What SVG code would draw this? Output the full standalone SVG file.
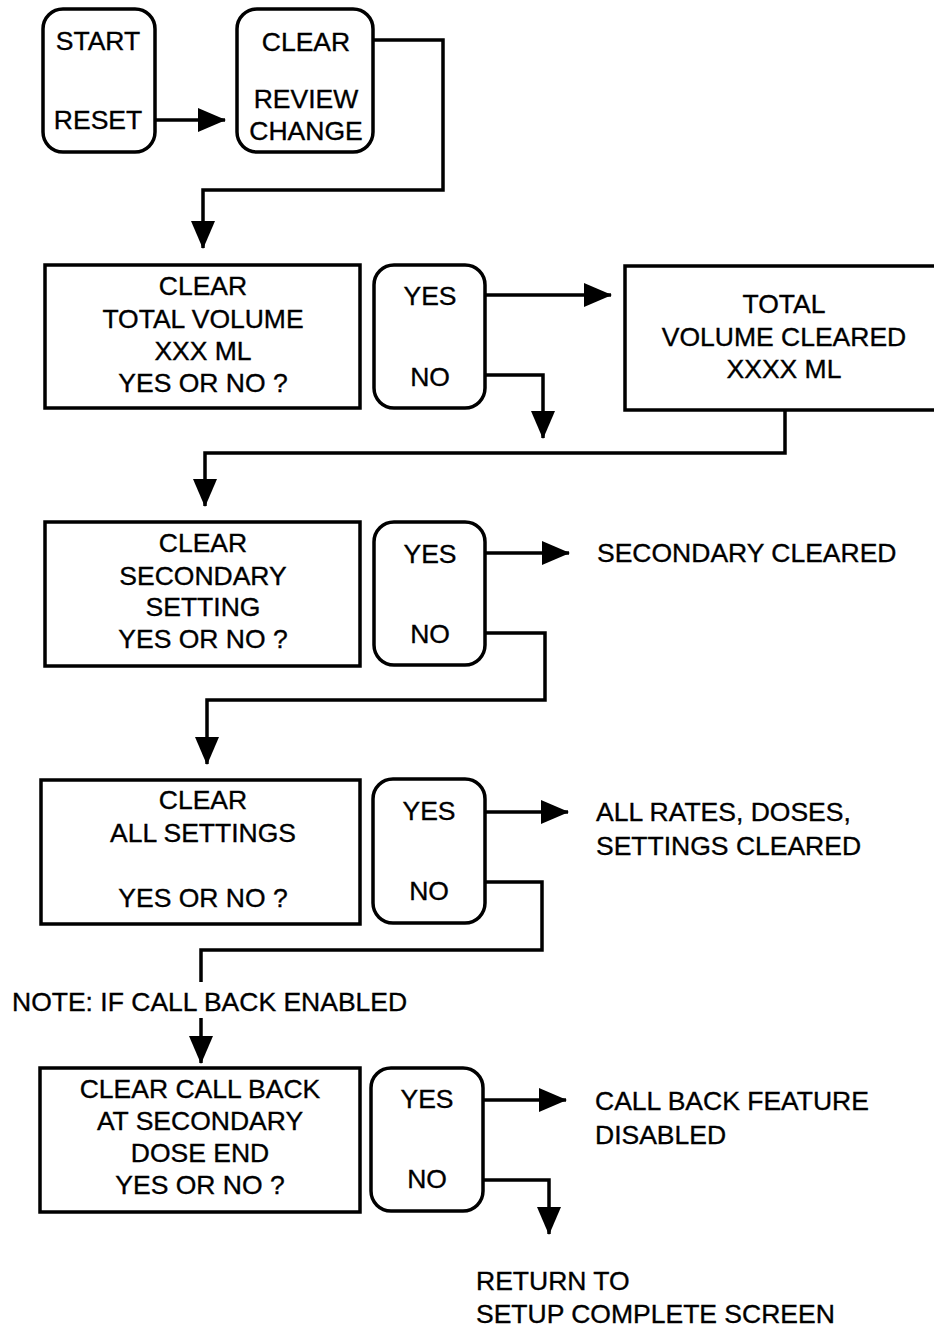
<svg xmlns="http://www.w3.org/2000/svg" width="934" height="1330" viewBox="0 0 934 1330">
<defs>
<style>
.box{fill:#fff;stroke:#000;stroke-width:3.5}
.t{font-family:"Liberation Sans",Arial,sans-serif;font-size:26.5px;fill:#000;stroke:#000;stroke-width:0.35}
.c{text-anchor:middle}
.ln{fill:none;stroke:#000;stroke-width:3.5}
</style>
<marker id="ah" markerUnits="userSpaceOnUse" markerWidth="28" markerHeight="24" refX="27" refY="12" orient="auto" viewBox="0 0 28 24">
<path d="M0,0 L28,12 L0,24 z" fill="#000"/>
</marker>
</defs>
<rect width="934" height="1330" fill="#fff"/>

<g id="start-reset">
<rect class="box" x="43" y="9" width="112" height="143" rx="20"/>
<text class="t c" x="98" y="50">START</text>
<text class="t c" x="98" y="129">RESET</text>
</g>
<g id="clear-review">
<rect class="box" x="237" y="9" width="136" height="143" rx="20"/>
<text class="t c" x="306" y="51">CLEAR</text>
<text class="t c" x="306" y="108">REVIEW</text>
<text class="t c" x="306" y="140">CHANGE</text>
</g>

<g id="clear-total">
<rect class="box" x="45" y="265" width="315" height="143"/>
<text class="t c" x="203" y="295">CLEAR</text>
<text class="t c" x="203" y="328">TOTAL VOLUME</text>
<text class="t c" x="203" y="360">XXX ML</text>
<text class="t c" x="203" y="392">YES OR NO ?</text>
</g>
<g id="yn1">
<rect class="box" x="374" y="265" width="111" height="143" rx="20"/>
<text class="t c" x="430" y="305">YES</text>
<text class="t c" x="430" y="386">NO</text>
</g>
<g id="total-cleared">
<rect class="box" x="625" y="266" width="320" height="144"/>
<text class="t c" x="784" y="313">TOTAL</text>
<text class="t c" x="784" y="346">VOLUME CLEARED</text>
<text class="t c" x="784" y="378">XXXX ML</text>
</g>

<g id="clear-secondary">
<rect class="box" x="45" y="522" width="315" height="144"/>
<text class="t c" x="203" y="552">CLEAR</text>
<text class="t c" x="203" y="585">SECONDARY</text>
<text class="t c" x="203" y="616">SETTING</text>
<text class="t c" x="203" y="648">YES OR NO ?</text>
</g>
<g id="yn2">
<rect class="box" x="374" y="522" width="111" height="143" rx="20"/>
<text class="t c" x="430" y="563">YES</text>
<text class="t c" x="430" y="643">NO</text>
</g>
<g id="secondary-cleared">
<text class="t" x="597" y="562">SECONDARY CLEARED</text>
</g>

<g id="clear-all">
<rect class="box" x="41" y="780" width="319" height="144"/>
<text class="t c" x="203" y="809">CLEAR</text>
<text class="t c" x="203" y="842">ALL SETTINGS</text>
<text class="t c" x="203" y="907">YES OR NO ?</text>
</g>
<g id="yn3">
<rect class="box" x="373" y="779" width="112" height="144" rx="20"/>
<text class="t c" x="429" y="820">YES</text>
<text class="t c" x="429" y="900">NO</text>
</g>
<g id="all-cleared">
<text class="t" x="596" y="821">ALL RATES, DOSES,</text>
<text class="t" x="596" y="855">SETTINGS CLEARED</text>
</g>

<g id="note">
<text class="t" x="12" y="1011">NOTE: IF CALL BACK ENABLED</text>
</g>

<g id="clear-callback">
<rect class="box" x="40" y="1068" width="320" height="144"/>
<text class="t c" x="200" y="1098">CLEAR CALL BACK</text>
<text class="t c" x="200" y="1130">AT SECONDARY</text>
<text class="t c" x="200" y="1162">DOSE END</text>
<text class="t c" x="200" y="1194">YES OR NO ?</text>
</g>
<g id="yn4">
<rect class="box" x="371" y="1068" width="112" height="143" rx="20"/>
<text class="t c" x="427" y="1108">YES</text>
<text class="t c" x="427" y="1188">NO</text>
</g>
<g id="callback-disabled">
<text class="t" x="595" y="1110">CALL BACK FEATURE</text>
<text class="t" x="595" y="1144">DISABLED</text>
</g>
<g id="return">
<text class="t" x="476" y="1290">RETURN TO</text>
<text class="t" x="476" y="1323">SETUP COMPLETE SCREEN</text>
</g>

<g id="connectors">
<path class="ln" d="M155,120 H225" marker-end="url(#ah)"/>
<path class="ln" d="M373,40 H443 V190 H203 V248" marker-end="url(#ah)"/>
<path class="ln" d="M485,295 H611" marker-end="url(#ah)"/>
<path class="ln" d="M485,375 H543 V438" marker-end="url(#ah)"/>
<path class="ln" d="M785,410 V453 H205 V506" marker-end="url(#ah)"/>
<path class="ln" d="M485,553 H569" marker-end="url(#ah)"/>
<path class="ln" d="M485,633 H545 V700 H207 V764" marker-end="url(#ah)"/>
<path class="ln" d="M485,812 H568" marker-end="url(#ah)"/>
<path class="ln" d="M485,882 H542 V950 H201 V982"/>
<path class="ln" d="M201,1018 V1063" marker-end="url(#ah)"/>
<path class="ln" d="M483,1100 H566" marker-end="url(#ah)"/>
<path class="ln" d="M483,1180 H549 V1234" marker-end="url(#ah)"/>
</g>
</svg>
